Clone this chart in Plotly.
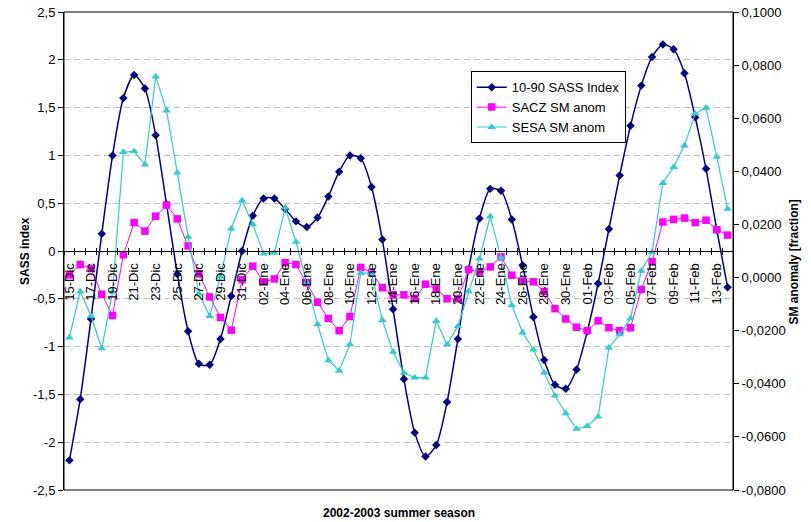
import plotly.graph_objects as go

dates = ["15-Dic","16-Dic","17-Dic","18-Dic","19-Dic","20-Dic","21-Dic","22-Dic","23-Dic","24-Dic",
         "25-Dic","26-Dic","27-Dic","28-Dic","29-Dic","30-Dic","31-Dic",
         "01-Ene","02-Ene","03-Ene","04-Ene","05-Ene","06-Ene","07-Ene","08-Ene","09-Ene","10-Ene",
         "11-Ene","12-Ene","13-Ene","14-Ene","15-Ene","16-Ene","17-Ene","18-Ene","19-Ene","20-Ene",
         "21-Ene","22-Ene","23-Ene","24-Ene","25-Ene","26-Ene","27-Ene","28-Ene","29-Ene","30-Ene","31-Ene",
         "01-Feb","02-Feb","03-Feb","04-Feb","05-Feb","06-Feb","07-Feb","08-Feb","09-Feb","10-Feb",
         "11-Feb","12-Feb","13-Feb","14-Feb"]

sass = [-2.19,-1.55,-0.71,0.18,1.00,1.60,1.84,1.70,1.21,0.49,
        -0.24,-0.84,-1.18,-1.19,-0.92,-0.47,0.00,0.37,0.55,0.55,
        0.44,0.31,0.25,0.35,0.57,0.83,1.00,0.97,0.67,0.12,
        -0.61,-1.34,-1.90,-2.15,-2.03,-1.58,-0.92,-0.19,0.34,0.65,
        0.63,0.33,-0.15,-0.69,-1.14,-1.40,-1.44,-1.24,-0.84,-0.34,
        0.23,0.79,1.31,1.73,2.03,2.16,2.11,1.86,1.40,0.86,
        0.22,-0.38]

sacz = [0.0010,0.0049,0.0034,-0.0063,-0.0143,0.0086,0.0207,0.0175,0.0231,0.0273,
        0.0221,0.0119,0.0014,-0.0073,-0.0150,-0.0198,-0.0008,0.0043,-0.0016,-0.0005,
        0.0056,0.0049,-0.0020,-0.0093,-0.0154,-0.0200,-0.0147,0.0038,0.0018,-0.0038,
        -0.0065,-0.0065,-0.0079,-0.0025,-0.0043,-0.0080,-0.0080,0.0030,0.0021,0.0040,
        0.0078,0.0009,-0.0013,-0.0016,-0.0052,-0.0117,-0.0156,-0.0187,-0.0200,-0.0163,
        -0.0189,-0.0200,-0.0189,-0.0045,0.0060,0.0209,0.0219,0.0224,0.0207,0.0216,
        0.0180,0.0160]

sesa = [-0.0226,-0.0052,-0.0145,-0.0267,-0.0054,0.0472,0.0475,0.0425,0.0757,0.0629,
        0.0395,0.0153,-0.0060,-0.0145,0.0003,0.0184,0.0290,0.0200,0.0090,0.0093,
        0.0263,0.0134,-0.0020,-0.0176,-0.0312,-0.0351,-0.0252,0.0017,0.0017,-0.0160,
        -0.0280,-0.0359,-0.0377,-0.0377,-0.0164,-0.0252,-0.0183,-0.0052,0.0071,0.0230,
        0.0075,-0.0104,-0.0207,-0.0271,-0.0358,-0.0445,-0.0511,-0.0570,-0.0559,-0.0524,
        -0.0264,-0.0214,-0.0154,0.0025,0.0096,0.0356,0.0416,0.0497,0.0617,0.0639,
        0.0454,0.0259]

left_vals = [-2.5,-2,-1.5,-1,-0.5,0,0.5,1,1.5,2,2.5]
left_text = ["-2,5","-2","-1,5","-1","-0,5","0","0,5","1","1,5","2","2,5"]
right_vals = [-0.08,-0.06,-0.04,-0.02,0,0.02,0.04,0.06,0.08,0.10]
right_text = ["-0,0800","-0,0600","-0,0400","-0,0200","0,0000","0,0200","0,0400","0,0600","0,0800","0,1000"]

idx = list(range(len(dates)))
FONT = "Liberation Sans, Arial, sans-serif"

fig = go.Figure()
fig.add_trace(go.Scatter(x=idx, y=sass, name="10-90 SASS Index", mode="lines+markers",
                         line=dict(color="#000080", width=1.5, shape="spline", smoothing=0.7),
                         marker=dict(symbol="diamond", size=6.5, color="#000080")))
fig.add_trace(go.Scatter(x=idx, y=sacz, name="SACZ SM anom", mode="lines+markers", yaxis="y2",
                         line=dict(color="#FF00FF", width=1),
                         marker=dict(symbol="square", size=7.5, color="#FF00FF")))
fig.add_trace(go.Scatter(x=idx, y=sesa, name="SESA SM anom", mode="lines+markers", yaxis="y2",
                         line=dict(color="#33CCCC", width=1.2),
                         marker=dict(symbol="triangle-up", size=7.5, color="#33CCCC")))
# helper (empty) trace to register the crossing-tick overlay axis
fig.add_trace(go.Scatter(x=[], y=[], xaxis="x3", yaxis="y", showlegend=False, hoverinfo="skip"))

xr = [-0.5, len(dates) - 0.5]
fig.update_layout(
    width=811, height=522,
    margin=dict(l=64, r=78, t=12, b=32, autoexpand=False),
    paper_bgcolor="white", plot_bgcolor="white",
    font=dict(family=FONT, size=13, color="black"),
    showlegend=True,
    legend=dict(x=0.608, y=0.876, xanchor="left", yanchor="top",
                bgcolor="white", bordercolor="black", borderwidth=1,
                font=dict(size=13), traceorder="normal"),
    xaxis=dict(range=xr, anchor="free", position=0.5, showline=True, linecolor="black", linewidth=1,
               tickmode="array", tickvals=idx[::2], ticktext=dates[::2], tickangle=-90,
               ticks="", showgrid=False, zeroline=False, automargin=False, ticklabelstandoff=6,
               tickfont=dict(size=13),
               minor=dict(tickmode="linear", tick0=-0.5, dtick=1, ticks="outside", ticklen=3,
                          tickcolor="black", showgrid=False)),
    xaxis3=dict(range=xr, overlaying="x", anchor="free", position=0.5, showline=False,
                tickmode="linear", tick0=-0.5, dtick=1, ticks="inside", ticklen=3, tickcolor="black",
                showticklabels=False, showgrid=False, zeroline=False, automargin=False),
    yaxis=dict(range=[-2.5, 2.5], tickmode="array", tickvals=left_vals, ticktext=left_text,
               ticks="outside", ticklen=5, tickcolor="black", showline=True, linecolor="black",
               showgrid=True, gridcolor="#C0C0C0", griddash="6px,4px", gridwidth=1,
               zeroline=False, automargin=False, tickfont=dict(size=13)),
    yaxis2=dict(range=[-0.08, 0.10], overlaying="y", side="right", anchor="x",
                tickmode="array", tickvals=right_vals, ticktext=right_text,
                ticks="outside", ticklen=5, tickcolor="black", showline=True, linecolor="black",
                showgrid=False, zeroline=False, automargin=False, tickfont=dict(size=13)),
    shapes=[dict(type="rect", xref="paper", yref="paper", x0=0, x1=1, y0=0, y1=1,
                 line=dict(color="black", width=1), fillcolor="rgba(0,0,0,0)", layer="above")],
    annotations=[
        dict(text="<b>SASS index</b>", xref="paper", yref="paper", x=-0.0717, y=0.5,
             textangle=-90, showarrow=False, font=dict(size=12)),
        dict(text="<b>SM anomaly [fraction]</b>", xref="paper", yref="paper", x=1.1046, y=0.478,
             textangle=-90, showarrow=False, font=dict(size=12)),
        dict(text="<b>2002-2003 summer season</b>", xref="paper", yref="paper", x=0.5, y=-0.0485,
             yanchor="middle", showarrow=False, font=dict(size=12)),
    ],
)

fig.write_html("out.html", config={"displayModeBar": False},
               post_script="document.body.style.margin='0';document.body.style.overflow='hidden';")
